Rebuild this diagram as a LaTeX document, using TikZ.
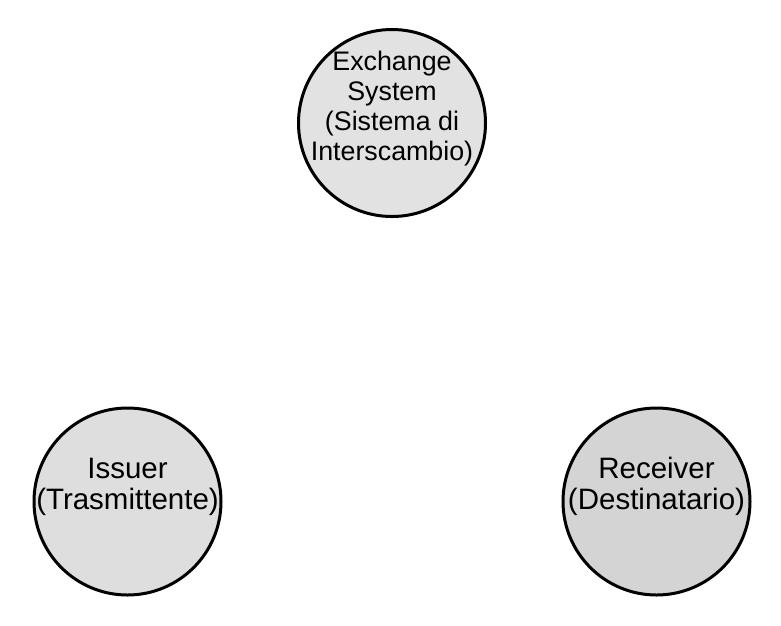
\documentclass[tikz,border=0pt]{standalone}
\usepackage{fontspec}
\setmainfont{Liberation Sans}
\definecolor{fillA}{HTML}{E2E2E2}
\definecolor{fillB}{HTML}{DEDEDE}
\definecolor{fillC}{HTML}{D4D4D4}
\begin{document}
\begin{tikzpicture}[x=1pt,y=-1pt,
  circ/.style={circle,draw=black,line width=3pt,minimum size=187pt,inner sep=0pt},
  txt/.style={align=center,inner sep=0pt}]
\useasboundingbox (0,0) rectangle (781,625);
\fill[white] (0,0) rectangle (781,625);
\node[circ,fill=fillA] (ex) at (392,123) {};
\node[circ,fill=fillB] (is) at (127.5,501.5) {};
\node[circ,fill=fillC] (re) at (656.5,501.5) {};
\node[txt,font=\fontsize{26.8}{30}\selectfont] (exT) at ([yshift=14pt]ex.center) {Exchange\\System\\(Sistema di\\Interscambio)};
\node[txt,font=\fontsize{29.5}{31}\selectfont] (isT) at ([yshift=15pt]is.center) {Issuer\\(Trasmittente)};
\node[txt,font=\fontsize{29.5}{31}\selectfont] (reT) at ([yshift=15pt]re.center) {Receiver\\(Destinatario)};
\end{tikzpicture}
\end{document}
